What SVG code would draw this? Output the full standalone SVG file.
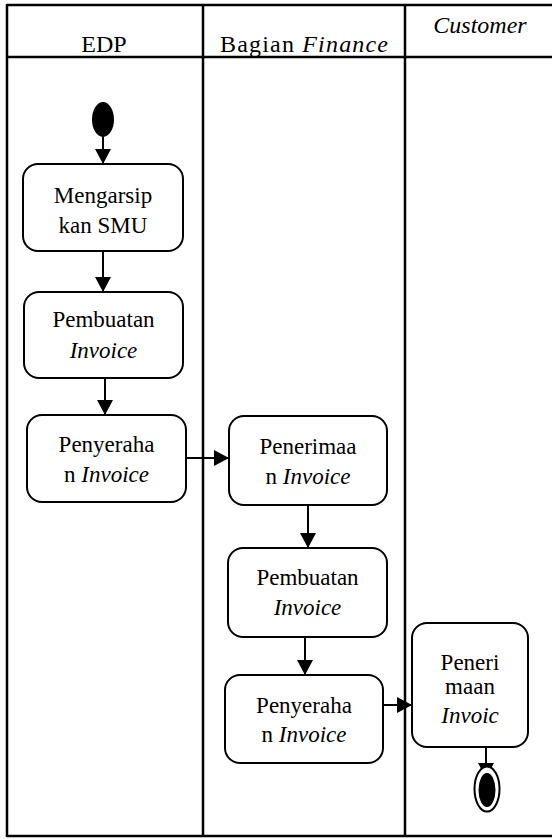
<svg xmlns="http://www.w3.org/2000/svg" width="552" height="839" viewBox="0 0 552 839">
<defs>
<style>
.lane{stroke:#000;stroke-width:2.5;fill:none}
.node rect{fill:#fff;stroke:#000;stroke-width:2}
.t{font-size:23px;fill:#000;text-anchor:middle}
.h{font-size:24px;fill:#000;text-anchor:middle}
.i{font-style:italic}
.conn line{stroke:#000;stroke-width:2;marker-end:url(#ah)}
</style>
<marker id="ah" viewBox="0 0 15 16" refX="15" refY="8" markerWidth="15" markerHeight="16" markerUnits="userSpaceOnUse" orient="auto">
<path d="M0,0 L15,8 L0,16 Z" fill="#000"/>
</marker>
</defs>
<g font-family="Liberation Serif, DejaVu Serif, serif">
<g id="swimlanes">
<line class="lane" x1="7" y1="5" x2="560" y2="5" stroke-width="3"/>
<line class="lane" x1="7" y1="57" x2="560" y2="57"/>
<line class="lane" x1="7" y1="836" x2="560" y2="836" stroke-width="3"/>
<line class="lane" x1="7" y1="4" x2="7" y2="837" stroke-width="3"/>
<line class="lane" x1="203" y1="5" x2="203" y2="836"/>
<line class="lane" x1="405" y1="5" x2="405" y2="836"/>
<text class="h" x="104" y="52">EDP</text>
<text class="h" x="304" y="52" textLength="168" lengthAdjust="spacing">Bagian <tspan class="i">Finance</tspan></text>
<text class="h i" x="480" y="33">Customer</text>
</g>
<g id="connectors" class="conn">
<line x1="103" y1="136" x2="103" y2="164"/>
<line x1="103" y1="251" x2="103" y2="292"/>
<line x1="105" y1="378" x2="105" y2="415"/>
<line x1="186" y1="458" x2="229" y2="458"/>
<line x1="308" y1="505" x2="308" y2="548"/>
<line x1="305" y1="637" x2="305" y2="675"/>
<line x1="383" y1="705" x2="412" y2="705"/>
<line x1="486" y1="747" x2="486" y2="778"/>
</g>
<g id="start">
<ellipse cx="103" cy="119.5" rx="11" ry="17.5" fill="#000"/>
</g>
<g id="n1" class="node">
<rect x="23" y="164" width="160" height="87" rx="15"/>
<text class="t" x="103" y="203">Mengarsip</text>
<text class="t" x="103" y="233">kan SMU</text>
</g>
<g id="n2" class="node">
<rect x="24" y="292" width="159" height="86" rx="15"/>
<text class="t" x="103.5" y="327">Pembuatan</text>
<text class="t i" x="103.5" y="358">Invoice</text>
</g>
<g id="n3" class="node">
<rect x="27" y="415" width="159" height="87" rx="15"/>
<text class="t" x="106.5" y="452">Penyeraha</text>
<text class="t" x="106.5" y="482">n <tspan class="i">Invoice</tspan></text>
</g>
<g id="n4" class="node">
<rect x="229" y="416" width="158" height="89" rx="15"/>
<text class="t" x="308" y="454">Penerimaa</text>
<text class="t" x="308" y="484">n <tspan class="i">Invoice</tspan></text>
</g>
<g id="n5" class="node">
<rect x="228" y="548" width="159" height="89" rx="15"/>
<text class="t" x="307.5" y="585">Pembuatan</text>
<text class="t i" x="307.5" y="615">Invoice</text>
</g>
<g id="n6" class="node">
<rect x="225" y="675" width="158" height="88" rx="15"/>
<text class="t" x="304" y="713">Penyeraha</text>
<text class="t" x="304" y="742">n <tspan class="i">Invoice</tspan></text>
</g>
<g id="n7" class="node">
<rect x="412" y="623" width="116" height="124" rx="15"/>
<text class="t" x="470" y="670">Peneri</text>
<text class="t" x="470" y="694">maan</text>
<text class="t i" x="470" y="723">Invoic</text>
</g>
<g id="end">
<ellipse cx="487" cy="789" rx="12.5" ry="22.5" fill="#fff" stroke="#000" stroke-width="2"/>
<ellipse cx="487" cy="790" rx="8.5" ry="17" fill="#000"/>
</g>
</g>
</svg>
